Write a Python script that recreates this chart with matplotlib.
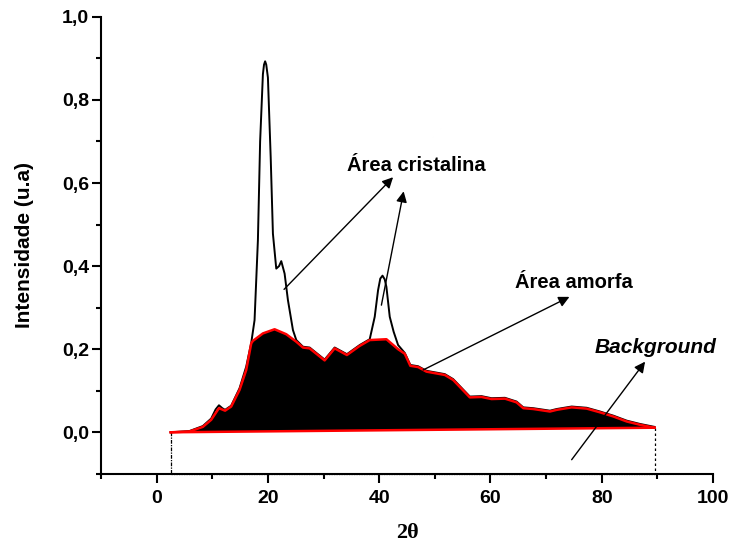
import matplotlib
matplotlib.use('Agg')
import matplotlib.pyplot as plt
from matplotlib.ticker import MultipleLocator, FuncFormatter

plt.rcParams['font.family'] = ['Liberation Sans', 'DejaVu Sans']

# padrão de difração total (linha preta)
total_x = [2.5, 5.9, 8.3, 9.8, 10.6, 11.2, 11.8, 12.3, 13.4, 14.9, 16.1, 17.0, 17.6,
           18.2, 18.6, 19.1, 19.3, 19.5, 19.7, 20.0, 20.5, 20.9, 21.5, 22.0, 22.4,
           23.0, 23.6, 24.5, 25.1, 26.3, 27.5, 30.2, 32.0, 34.2, 36.5, 38.3, 39.2,
           39.8, 40.2, 40.6, 41.0, 41.3, 41.9, 42.6, 43.4, 44.6, 45.6, 47.0, 48.5,
           51.8, 53.3, 56.3, 58.4, 60.2, 62.6, 64.7, 65.9, 67.7, 70.7, 71.9, 74.6,
           77.3, 79.7, 82.1, 84.5, 86.9, 89.5]
total_y = [0.0, 0.003, 0.015, 0.033, 0.055, 0.065, 0.058, 0.054, 0.064, 0.106, 0.158,
           0.215, 0.27, 0.462, 0.70, 0.862, 0.885, 0.893, 0.885, 0.854, 0.662, 0.478,
           0.394, 0.40, 0.412, 0.382, 0.318, 0.246, 0.222, 0.206, 0.204, 0.175, 0.204,
           0.188, 0.21, 0.224, 0.278, 0.342, 0.37, 0.377, 0.368, 0.35, 0.278, 0.242,
           0.21, 0.191, 0.162, 0.159, 0.148, 0.14, 0.128, 0.086, 0.087, 0.082, 0.083,
           0.074, 0.06, 0.058, 0.052, 0.056, 0.062, 0.059, 0.05, 0.04, 0.028, 0.02,
           0.013]

# halo amorfo (contorno vermelho, preenchido)
amorph_x = [2.6, 5.9, 8.3, 9.8, 11.2, 12.3, 13.4, 14.9, 16.1, 17.0, 17.3, 19.1, 21.2,
            23.3, 25.1, 26.3, 27.5, 30.2, 32.0, 34.2, 36.5, 38.3, 41.3, 43.4, 44.6,
            45.6, 47.0, 48.5, 51.8, 53.3, 56.3, 58.4, 60.2, 62.6, 64.7, 65.9, 67.7,
            70.7, 71.9, 74.6, 77.3, 79.7, 82.1, 84.5, 86.9, 89.5]
amorph_y = [0.0, 0.002, 0.013, 0.03, 0.058, 0.052, 0.062, 0.102, 0.15, 0.214, 0.22,
            0.238, 0.248, 0.236, 0.218, 0.204, 0.202, 0.173, 0.202, 0.186, 0.208,
            0.222, 0.224, 0.2, 0.189, 0.16, 0.157, 0.146, 0.138, 0.126, 0.084, 0.085,
            0.08, 0.081, 0.072, 0.058, 0.056, 0.05, 0.054, 0.06, 0.057, 0.048, 0.038,
            0.026, 0.018, 0.011]

# linha de base (background)
bg_x = [2.5, 89.5]
bg_y = [0.0, 0.011]
bg_bottom = -0.1

fig, ax = plt.subplots(figsize=(7.32, 5.44), dpi=100)
fig.subplots_adjust(left=0.138, right=0.974, bottom=0.129, top=0.969)

# retângulo pontilhado do background
ax.plot([bg_x[0], bg_x[0]], [bg_y[0], bg_bottom], color='black', lw=0.9,
        linestyle=(0, (3, 1, 1, 1)), zorder=1, clip_on=False)
ax.plot([bg_x[1], bg_x[1]], [bg_y[1], bg_bottom], color='black', lw=0.9,
        linestyle=(0, (2, 2)), zorder=1, clip_on=False)
ax.plot(bg_x, [bg_bottom, bg_bottom], color='black', lw=0.9, linestyle=(0, (1, 1)),
        zorder=1, clip_on=False)

ax.plot(total_x, total_y, color='black', lw=1.4, zorder=2)
ax.fill(amorph_x + bg_x[::-1], amorph_y + bg_y[::-1], color='black', lw=0, zorder=3)
ax.plot(amorph_x, amorph_y, color='red', lw=1.8, zorder=4)
ax.plot(bg_x, bg_y, color='red', lw=1.8, zorder=4)

ax.set_xlim(-10, 100)
ax.set_ylim(-0.1, 1.0)
ax.spines['top'].set_visible(False)
ax.spines['right'].set_visible(False)
ax.spines['left'].set_linewidth(1.5)
ax.spines['bottom'].set_linewidth(1.5)

ax.xaxis.set_major_locator(MultipleLocator(20))
ax.xaxis.set_minor_locator(MultipleLocator(10))
ax.yaxis.set_major_locator(MultipleLocator(0.2))
ax.yaxis.set_minor_locator(MultipleLocator(0.1))
ax.yaxis.set_major_formatter(FuncFormatter(lambda v, p: f'{v:.1f}'.replace('.', ',')))
ax.tick_params(which='major', length=6.5, width=1.5, labelsize=14, pad=2)
ax.tick_params(which='minor', length=3.5, width=1.5)
ax.tick_params(axis='x', which='major', pad=5)
for lab in ax.get_xticklabels() + ax.get_yticklabels():
    lab.set_fontweight('bold')

ax.set_ylabel('Intensidade (u.a)', fontsize=15, fontweight='bold', labelpad=20)
ax.set_xlabel('2θ', fontsize=16, fontweight='bold', family=['Liberation Serif', 'DejaVu Serif'],
              labelpad=12)

arrow = dict(arrowstyle='-|>', color='black', lw=1.0, mutation_scale=16,
             shrinkA=0, shrinkB=0)
ax.annotate('', xy=(42.5, 0.614), xytext=(22.9, 0.344), arrowprops=arrow, zorder=5)
ax.annotate('', xy=(44.4, 0.58), xytext=(40.4, 0.306), arrowprops=arrow, zorder=5)
ax.annotate('', xy=(74.2, 0.326), xytext=(47.9, 0.150), arrowprops=arrow, zorder=5)
ax.annotate('', xy=(87.8, 0.170), xytext=(74.6, -0.066), arrowprops=arrow, zorder=5)

ax.text(46.6, 0.642, 'Área cristalina', fontsize=14.5, fontweight='bold',
        ha='center', va='center')
ax.text(75.0, 0.361, 'Área amorfa', fontsize=14.5, fontweight='bold',
        ha='center', va='center')
ax.text(89.7, 0.203, 'Background', fontsize=15, fontweight='bold', style='italic',
        ha='center', va='center')

fig.savefig('out.png', dpi=100)
